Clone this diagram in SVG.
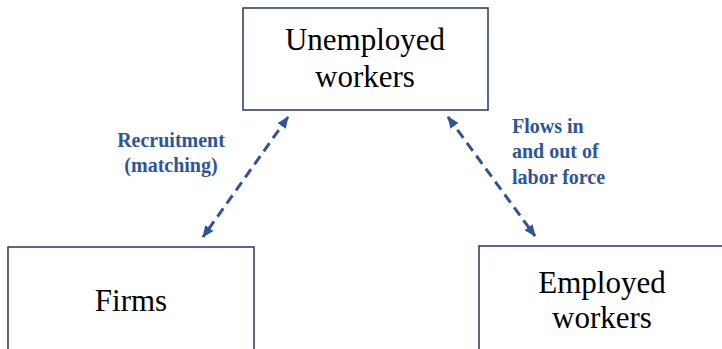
<svg xmlns="http://www.w3.org/2000/svg" width="722" height="349" viewBox="0 0 722 349">
  <style>
    .box { fill: #ffffff; stroke: #1f3864; stroke-width: 1.5; }
    .node-text { font-family: 'Liberation Serif', 'DejaVu Serif', serif; font-size: 31px; fill: #000000; text-anchor: middle; }
    .label { font-family: 'Liberation Serif', 'DejaVu Serif', serif; font-size: 20px; font-weight: bold; fill: #2f5597; }
    .flow { stroke: #2f5597; stroke-width: 3; stroke-dasharray: 10 6; fill: none; marker-start: url(#head); marker-end: url(#head); }
  </style>
  <defs>
    <marker id="head" viewBox="0 0 12 10" refX="11" refY="5" markerWidth="12" markerHeight="10" markerUnits="userSpaceOnUse" orient="auto-start-reverse">
      <path d="M0,0 L12,5 L0,10 Z" fill="#2f5597"/>
    </marker>
  </defs>
  <rect width="722" height="349" fill="#ffffff"/>

  <g id="unemployed">
    <rect class="box" x="243" y="8" width="245" height="102"/>
    <text class="node-text" x="365" y="50">Unemployed</text>
    <text class="node-text" x="365" y="87">workers</text>
  </g>

  <g id="firms">
    <rect class="box" x="8" y="247" width="246" height="120"/>
    <text class="node-text" x="131" y="311">Firms</text>
  </g>

  <g id="employed">
    <rect class="box" x="479" y="246" width="260" height="120"/>
    <text class="node-text" x="602" y="293">Employed</text>
    <text class="node-text" x="602" y="328">workers</text>
  </g>

  <g id="connectors">
    <line class="flow" x1="288" y1="117" x2="203" y2="237"/>
    <line class="flow" x1="448" y1="117" x2="535" y2="236"/>
    <text class="label" x="171" y="147" text-anchor="middle">Recruitment</text>
    <text class="label" x="171" y="172" text-anchor="middle">(matching)</text>
    <text class="label" x="512" y="133">Flows in</text>
    <text class="label" x="512" y="158">and out of</text>
    <text class="label" x="512" y="184">labor force</text>
  </g>
</svg>
